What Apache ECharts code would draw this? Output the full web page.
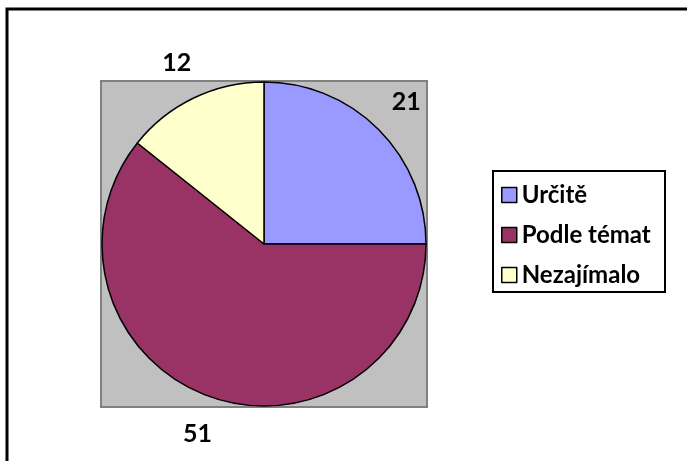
<!DOCTYPE html>
<html>
<head>
<meta charset="utf-8">
<script src="https://cdn.jsdelivr.net/npm/echarts@6/dist/echarts.min.js"></script>
<style>
  html, body { margin: 0; padding: 0; background: #fff; }
  #main { width: 687px; height: 461px; }
</style>
</head>
<body>
<div id="main"></div>
<script>
// data
var names = ['Určitě', 'Podle témat', 'Nezajímalo'];
var values = [21, 51, 12];
var colors = ['#9999FF', '#993366', '#FFFFCC'];

var chart = echarts.init(document.getElementById('main'));

var pieData = [];
for (var i = 0; i < names.length; i++) {
    pieData.push({ name: names[i], value: values[i], itemStyle: { color: colors[i] } });
}

var option = {
    animation: false,
    textStyle: { fontFamily: 'Lato' },
    graphic: {
        elements: [
            // outer frame (only left + top visible)
            { type: 'polyline', z: 0, shape: { points: [[7, 461], [7, 9], [687, 9]] },
              style: { stroke: '#000', lineWidth: 3, fill: null } },
            // grey plot area
            { type: 'rect', z: 0, shape: { x: 101, y: 81, width: 326, height: 326 },
              style: { fill: '#C0C0C0', stroke: '#808080', lineWidth: 2 } },
            // legend box
            { type: 'rect', z: 0, shape: { x: 493, y: 171, width: 172, height: 121 },
              style: { fill: '#fff', stroke: '#000', lineWidth: 2 } }
        ]
    },
    legend: {
        orient: 'vertical',
        left: 501,
        top: 183,
        padding: 0,
        icon: 'rect',
        itemWidth: 15,
        itemHeight: 15,
        itemGap: 16,
        selectedMode: false,
        data: names.map(function(n, i) {
            return { name: n, itemStyle: { color: colors[i], borderColor: '#000', borderWidth: 1.5 } };
        }),
        textStyle: { fontFamily: 'Lato', fontWeight: 'bold', fontSize: 24, color: '#000', lineHeight: 24 }
    },
    series: [
        {
            type: 'pie',
            center: [264, 244],
            radius: 162,
            startAngle: 90,
            clockwise: true,
            label: { show: false },
            labelLine: { show: false },
            itemStyle: { borderColor: '#000', borderWidth: 1.5 },
            emphasis: { disabled: true },
            data: pieData
        },
        {
            // invisible ring only used to place the value labels
            type: 'pie',
            center: [264, 244],
            radius: [190, 206],
            startAngle: 90,
            clockwise: true,
            silent: true,
            itemStyle: { color: 'transparent', borderWidth: 0 },
            label: {
                show: true,
                position: 'inside',
                formatter: '{c}',
                fontFamily: 'Lato',
                fontWeight: 'bold',
                fontSize: 25,
                color: '#000'
            },
            labelLine: { show: false },
            emphasis: { disabled: true },
            data: pieData.map(function(d) { return { name: d.name, value: d.value }; })
        }
    ]
};

chart.setOption(option);
</script>
</body>
</html>
